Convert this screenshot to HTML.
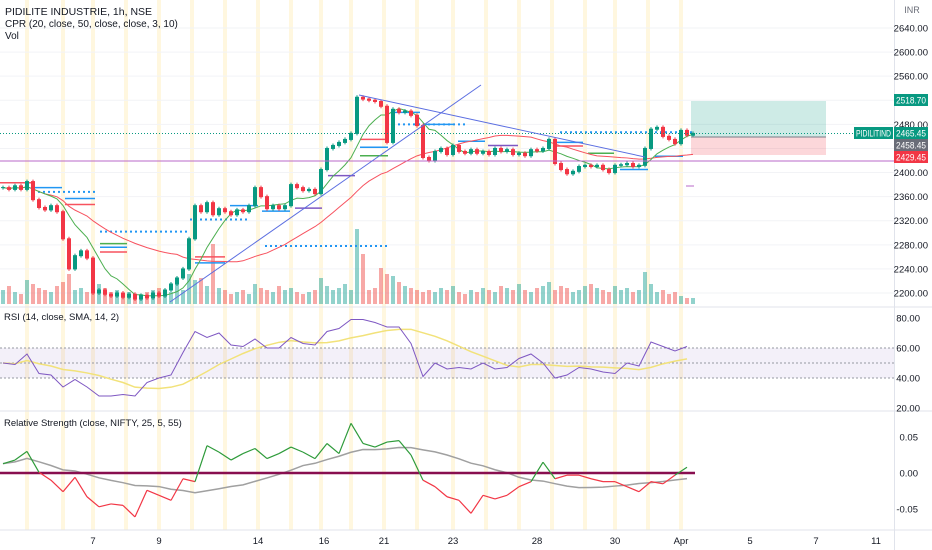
<!DOCTYPE html>
<html><head><meta charset="utf-8"><style>
html,body{margin:0;padding:0;background:#fff;}
svg{display:block;font-family:"Liberation Sans",sans-serif;}
</style></head><body>
<svg id="c" width="932" height="550" viewBox="0 0 932 550">
<g id="stripes"></g>
<g id="grid"></g>
<g id="vol"></g>
<g id="cpr"></g>
<g id="ma"></g>
<g id="candles"></g>
<g id="draw"></g>
<g id="rsi"></g>
<g id="rs"></g>
<g id="axes"></g>
</svg>
<script>
const NS='http://www.w3.org/2000/svg';
// ---------- DATA ----------
const closes=[2375,2372,2378,2372,2385,2355,2342,2338,2345,2335,2290,2240,2262,2270,2258,2200,2205,2198,2195,2200,2193,2198,2190,2196,2192,2200,2195,2205,2215,2225,2240,2290,2345,2335,2350,2330,2340,2335,2330,2338,2335,2345,2375,2360,2340,2345,2340,2345,2380,2375,2370,2372,2365,2405,2440,2445,2450,2455,2465,2525,2522,2520,2518,2510,2450,2505,2500,2502,2495,2478,2425,2420,2435,2440,2430,2445,2435,2432,2438,2432,2435,2430,2440,2435,2438,2430,2432,2428,2438,2436,2440,2455,2415,2405,2398,2402,2410,2412,2410,2412,2405,2400,2412,2413,2415,2410,2412,2440,2472,2475,2460,2455,2448,2470,2462,2465];
const volumes=[14,18,12,10,24,20,16,14,12,18,22,30,14,16,12,30,20,16,12,14,10,12,8,10,12,14,16,10,12,20,14,30,24,26,18,60,16,14,10,12,14,10,20,16,14,12,18,14,16,12,10,12,14,26,18,14,16,20,14,75,50,14,16,36,30,28,22,18,16,14,12,14,12,16,14,18,12,10,14,12,16,14,12,18,16,14,20,14,12,16,18,22,14,18,16,12,14,18,20,16,14,12,18,14,16,12,14,32,20,12,14,10,12,8,6,6];
const rsiVals=[50,49,56,43,42,34,39,34,28,28,29,28,37,40,42,57,71,67,70,62,61,66,60,60,67,63,62,71,73,79,79,77,74,74,63,41,50,46,47,46,50,46,47,53,56,50,40,42,47,46,44,43,50,48,64,61,58,61];
const rsVals=[0.013,0.018,0.03,0.001,-0.010,-0.026,-0.006,-0.033,-0.047,-0.043,-0.045,-0.061,-0.024,-0.031,-0.038,-0.008,-0.012,0.038,0.029,0.018,0.027,0.034,0.020,0.027,0.036,0.029,0.020,0.041,0.027,0.069,0.041,0.036,0.043,0.045,0.025,-0.010,-0.019,-0.033,-0.038,-0.056,-0.031,-0.036,-0.031,-0.019,-0.012,0.015,-0.008,-0.003,-0.003,-0.008,-0.012,-0.012,-0.019,-0.026,-0.012,-0.015,-0.003,0.008];
const priceTicks=[2200,2240,2280,2320,2360,2400,2440,2480,2520,2560,2600,2640];
const rsiTicks=[80,60,40,20];
const rsTicks=[0.05,0,-0.05];
const timeLabels=['7','9','14','16','21','23','28','30','Apr','5','7','11'];
const timeIdx=[15,26,42.5,53.5,63.5,75,89,102,113,124.5,135.5,145.5];
const dayIdx=[4,10,15,20.5,26,31.5,37,42.5,48,53,58,63.5,69,75,80.5,86,91.5,97,102,107.5,113];
// ---------- SCALES ----------
const X0=3,DX=6;
const xb=i=>X0+i*DX;
const py=p=>28+(2640-p)*0.6023;
const ry=v=>318+(80-v)*1.5;
const sy=v=>473-v*720;
const volBase=304;
function el(tag,attrs,parent,name,inter){const e=document.createElementNS(NS,tag);for(const k in attrs)e.setAttribute(k,attrs[k]);


document.getElementById(parent).appendChild(e);return e;}
function sma(a,n){return a.map((v,i)=>{const s=a.slice(Math.max(0,i-n+1),i+1);return s.reduce((x,y)=>x+y,0)/s.length;});}
// stripes
dayIdx.forEach(d=>{el('rect',{x:xb(d)-2,y:0,width:4,height:530,fill:'rgba(255,225,140,0.28)'},'stripes','session-stripe',false);});
// grid
priceTicks.forEach(t=>{el('line',{x1:0,x2:894,y1:py(t),y2:py(t),stroke:'#f2f3f6'},'grid','price-gridline',false);});
el('line',{x1:0,x2:932,y1:307,y2:307,stroke:'#e0e3eb'},'grid','pane-separator',false);
el('line',{x1:0,x2:932,y1:411,y2:411,stroke:'#e0e3eb'},'grid','pane-separator',false);
el('line',{x1:0,x2:932,y1:530,y2:530,stroke:'#e0e3eb'},'grid','time-axis-line',false);
el('line',{x1:894.5,x2:894.5,y1:0,y2:550,stroke:'#e0e3eb'},'grid','price-axis-line',false);
// volume
closes.forEach((c,i)=>{const o=i?closes[i-1]:c;const h=volumes[i];
el('rect',{x:xb(i)-2,y:volBase-h,width:4,height:h,fill:c>=o?'rgba(38,166,154,0.5)':'rgba(239,83,80,0.5)'},'vol','volume-bar',false);});
// moving averages
function polyline(vals,xf,yf,g,stroke,w,name){el('polyline',{points:vals.map((v,i)=>xf(i)+','+yf(v)).join(' '),fill:'none',stroke:stroke,'stroke-width':w},g,name,false);}
polyline(sma(closes,30),xb,py,'ma','#f7525f',1,'slow-ma-line');
polyline(sma(closes,8),xb,py,'ma','#4caf50',1,'fast-ma-line');
// candles
closes.forEach((c,i)=>{const o=i?closes[i-1]:c;const up=c>=o;const t=py(Math.max(o,c)),b=py(Math.min(o,c));
el('rect',{x:xb(i)-2,y:t-0.5,width:4,height:Math.max(1,b-t+1),fill:up?'#089981':'#f23645'},'candles','candle',false);
el('line',{x1:xb(i),x2:xb(i),y1:t-2,y2:b+2,stroke:up?'#089981':'#f23645'},'candles','candle-wick',false);});
// CPR segments
const cprDotted=[[33,95,2368],[100,190,2302],[265,390,2278],[398,465,2480],[560,692,2467],[190,250,2322]];
cprDotted.forEach(s=>el('line',{x1:s[0],x2:s[1],y1:py(s[2]),y2:py(s[2]),stroke:'#2196f3','stroke-width':2,'stroke-dasharray':'2,3'},'cpr','cpr-dotted-level',false));
const cprSolid=[[0,32,2383,'#f7525f'],[33,62,2375,'#2196f3'],[65,95,2357,'#2196f3'],[65,95,2347,'#f7525f'],[100,127,2276,'#2196f3'],[100,127,2268,'#f7525f'],[100,127,2282,'#4caf50'],[195,225,2250,'#2196f3'],[195,225,2260,'#f7525f'],[230,258,2345,'#2196f3'],[262,290,2336,'#2196f3'],[295,322,2341,'#7e57c2'],[328,355,2395,'#7e57c2'],[360,388,2455,'#f7525f'],[360,388,2442,'#2196f3'],[360,388,2428,'#4caf50'],[392,420,2500,'#2196f3'],[425,453,2480,'#2196f3'],[458,485,2452,'#2196f3'],[488,518,2445,'#7e57c2'],[555,583,2450,'#2196f3'],[555,583,2444,'#f7525f'],[588,614,2432,'#4caf50'],[620,648,2405,'#2196f3'],[655,683,2427,'#2196f3']];
cprSolid.forEach(s=>el('line',{x1:s[0],x2:s[1],y1:py(s[2]),y2:py(s[2]),stroke:s[3],'stroke-width':1.5},'cpr','cpr-level',false));
// drawings
el('line',{x1:0,x2:894,y1:161,y2:161,stroke:'#ba68c8','stroke-width':1},'draw','horizontal-support-line',true);
el('line',{x1:0,x2:894,y1:133.5,y2:133.5,stroke:'#089981','stroke-width':1,'stroke-dasharray':'1,2'},'draw','last-price-line',false);
el('line',{x1:170,x2:481,y1:302,y2:85,stroke:'#5b6ee1','stroke-width':1},'draw','ascending-trendline',true);
el('line',{x1:359,x2:645,y1:95,y2:157,stroke:'#5b6ee1','stroke-width':1},'draw','descending-trendline',true);
el('rect',{x:691,y:101,width:135,height:36,fill:'rgba(8,153,129,0.2)'},'draw','target-zone',true);
el('rect',{x:691,y:137,width:135,height:18,fill:'rgba(242,54,69,0.2)'},'draw','stop-zone',true);
el('line',{x1:691,x2:826,y1:137,y2:137,stroke:'#787b86'},'draw','entry-line',false);
el('line',{x1:686,x2:694,y1:186,y2:186,stroke:'#ba68c8'},'draw','small-marker',false);
// RSI
el('rect',{x:0,y:ry(60),width:894,height:ry(40)-ry(60),fill:'rgba(126,87,194,0.09)'},'rsi','rsi-band',false);
[60,50,40].forEach(v=>el('line',{x1:0,x2:894,y1:ry(v),y2:ry(v),stroke:'#9598a1','stroke-dasharray':'2,2'},'rsi','rsi-level-line',false));
const rx=i=>X0+i*12;
polyline(sma(rsiVals,9),rx,ry,'rsi','#f2e27a',1.5,'rsi-sma-line');
polyline(rsiVals,rx,ry,'rsi','#7e57c2',1,'rsi-line');
// RS
polyline(sma(rsVals,14),rx,sy,'rs','#a0a0a0',1.5,'rs-average-line');
el('line',{x1:0,x2:695,y1:sy(0),y2:sy(0),stroke:'#880e4f','stroke-width':2.5},'rs','rs-zero-line',false);
for(let i=1;i<rsVals.length;i++){const m=(rsVals[i]+rsVals[i-1])/2;
el('line',{x1:rx(i-1),y1:sy(rsVals[i-1]),x2:rx(i),y2:sy(rsVals[i]),stroke:m>=0?'#2e9b3a':'#f23645','stroke-width':1.2},'rs','rs-line-segment',false);}
// axes labels
function txt(x,y,s,g,name,opt){const t=el('text',Object.assign({x:x,y:y,'font-size':10,fill:'#131722'},opt||{}),g,name,false);t.textContent=s;return t;}
priceTicks.forEach(t=>txt(928,py(t)+3.5,t.toFixed(2),'axes','price-tick-label',{'text-anchor':'end','font-size':9.5}));
rsiTicks.forEach(t=>txt(920,ry(t)+3.5,t.toFixed(2),'axes','rsi-tick-label',{'text-anchor':'end','font-size':9.5}));
rsTicks.forEach(t=>txt(918,sy(t)+3.5,t.toFixed(2),'axes','rs-tick-label',{'text-anchor':'end','font-size':9.5}));
timeLabels.forEach((s,i)=>txt(xb(timeIdx[i]),544,s,'axes','time-tick-label',{'text-anchor':'middle','font-size':9.5}));
function tag(x,y,w,bg,s,name){el('rect',{x:x,y:y,width:w,height:12,fill:bg},'axes',name,false);txt(x+w/2,y+9.5,s,'axes',name+'-text',{'text-anchor':'middle',fill:'#fff','font-size':9,textLength:w-4,lengthAdjust:'spacingAndGlyphs'});}
tag(894,94,34,'#089981','2518.70','target-price-label');
tag(854,127,39,'#089981','PIDILITIND','symbol-label');
tag(894,127,34,'#089981','2465.45','last-price-label');
tag(894,139,34,'#6a6d78','2458.45','entry-price-label');
tag(894,151,34,'#f23645','2429.45','stop-price-label');
txt(912,13,'INR','axes','currency-label',{'text-anchor':'middle','font-size':9,fill:'#6a6d78'});
txt(5,15,'PIDILITE INDUSTRIE, 1h, NSE','axes','chart-title',{'font-size':10.5});
txt(5,27,'CPR (20, close, 50, close, close, 3, 10)','axes','cpr-legend',{'font-size':10});
txt(5,39,'Vol','axes','volume-legend',{'font-size':10});
txt(4,320,'RSI (14, close, SMA, 14, 2)','axes','rsi-legend',{'font-size':9.5});
txt(4,426,'Relative Strength (close, NIFTY, 25, 5, 55)','axes','rs-legend',{'font-size':9.5});
</script>
</body></html>
